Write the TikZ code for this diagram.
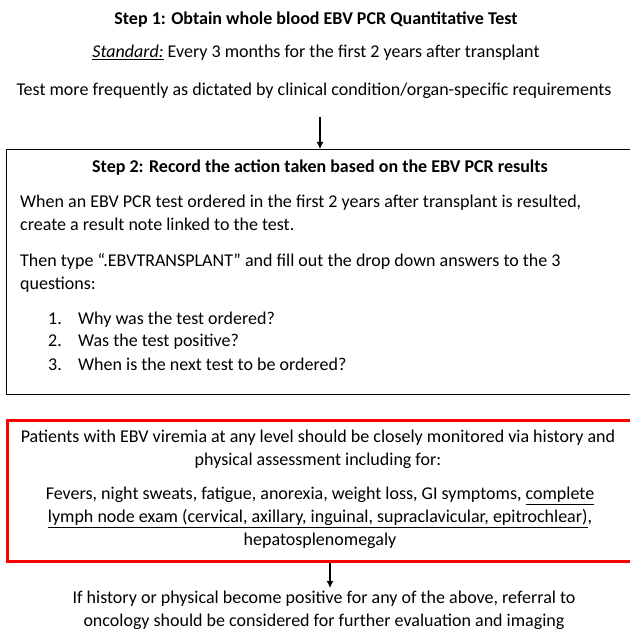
\documentclass[tikz,border=0pt]{standalone}
\usepackage{fontspec}
\setmainfont{Carlito}
\usetikzlibrary{arrows.meta}
\tikzset{
  txt/.style={inner sep=0pt, font=\fontsize{18}{23}\selectfont},
  bold/.style={inner sep=0pt, font=\fontsize{18}{23}\selectfont\bfseries},
  arr/.style={-{Latex[length=7pt,width=7pt]}, line width=1.3pt},
}
\begin{document}
\begin{tikzpicture}[x=1pt,y=-1pt]
  \useasboundingbox (0,0) rectangle (629,631);
  % step 1
  \node[bold] (step1) at (316,20) {Step 1: Obtain whole blood EBV PCR Quantitative Test};
  \node[txt] (std) at (316,53) {\underline{\textit{Standard:}} Every 3 months for the first 2 years after transplant};
  \node[txt] (freq) at (314,91) {Test more frequently as dictated by clinical condition/organ-specific requirements};
  % step 2
  \node[draw, line width=1.2pt, minimum width=640pt, minimum height=245pt,
        anchor=north west, inner sep=0pt] (box2) at (6,149) {};
  \coordinate (a1) at (320,117);
  \draw[arr] (a1) -- (a1 |- box2.north);
  \node[bold] (step2) at (320,168) {Step 2: Record the action taken based on the EBV PCR results};
  \node[txt, anchor=north west, align=left] (note) at (20,195)
    {When an EBV PCR test ordered in the first 2 years after transplant is resulted,\\
     create a result note linked to the test.};
  \node[txt, anchor=north west, align=left] (type) at (20,253)
    {Then type ``.EBVTRANSPLANT'' and fill out the drop down answers to the 3\\
     questions:};
  \node[txt, anchor=west] (q1) at (48,320) {\makebox[30pt][l]{1.}Why was the test ordered?};
  \node[txt, anchor=west] (q2) at (48,342) {\makebox[30pt][l]{2.}Was the test positive?};
  \node[txt, anchor=west] (q3) at (48,364) {\makebox[30pt][l]{3.}When is the next test to be ordered?};
  % monitoring
  \node[draw=red, line width=3pt, minimum width=640pt, minimum height=141pt,
        anchor=north west, inner sep=0pt] (watch) at (6,419) {};
  \node[txt, align=center, anchor=north] (watch1) at (318,430)
    {Patients with EBV viremia at any level should be closely monitored via history and\\
     physical assessment including for:};
  \node[txt, align=center, anchor=north] (watch2) at (320,487)
    {Fevers, night sweats, fatigue, anorexia, weight loss, GI symptoms, \underline{complete}\\
     \underline{lymph node exam (cervical, axillary, inguinal, supraclavicular, epitrochlear)},\\
     hepatosplenomegaly};
  % referral
  \coordinate (a2) at (330,588);
  \draw[arr] (a2 |- watch.south) -- (a2);
  \node[txt, align=center, anchor=north] (refer) at (324,591)
    {If history or physical become positive for any of the above, referral to\\
     oncology should be considered for further evaluation and imaging};
\end{tikzpicture}
\end{document}
